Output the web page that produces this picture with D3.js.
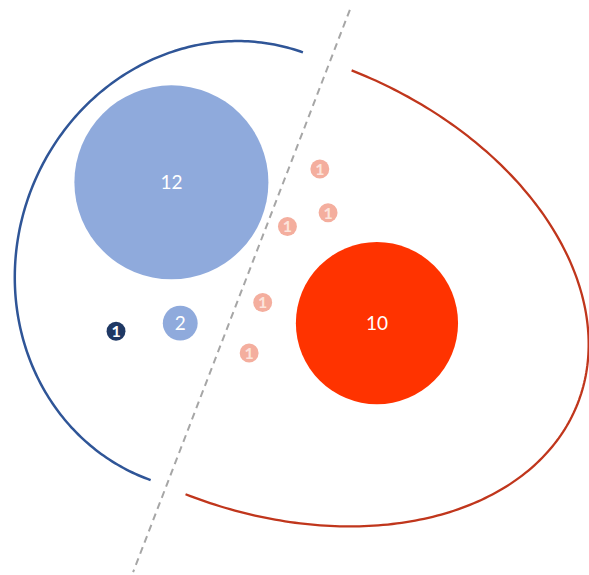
<!DOCTYPE html>
<html>
<head>
<meta charset="utf-8">
<script src="https://cdn.jsdelivr.net/npm/d3@7"></script>
<style>
  html, body { margin: 0; padding: 0; background: #ffffff; }
  svg { display: block; }
</style>
</head>
<body>
<svg id="chart" width="589" height="575"></svg>
<script>
// ---- data (positions in a 0–100 layout space, values = bubble counts) ----
const groups = ["blue", "blue", "blue", "red", "red", "red", "red", "red", "red"];
const values = [12, 2, 1, 10, 1, 1, 1, 1, 1];
const xs     = [29.1, 30.6, 19.7, 64.0, 54.3, 55.7, 48.8, 44.6, 42.3];
const ys     = [31.7, 56.2, 57.6, 56.2, 29.4, 37.0, 39.4, 52.6, 61.4];
const labels = ["12", "2", "1", "10", "1", "1", "1", "1", "1"];

const W = 589, H = 575;
const svg = d3.select("#chart");

const x = d3.scaleLinear().domain([0, 100]).range([0, W]);
const y = d3.scaleLinear().domain([0, 100]).range([0, H]);
const r = d3.scaleLinear().domain([0, 12]).range([1.5, 97]);

// fills
const fillFor = (g, v) => {
  if (g === "blue") return v === 1 ? "#1F3864" : "#8FAADC";
  return v === 1 ? "#F4AE9E" : "#FF3300";
};

// ---- half-ellipse outlines ----
function halfEllipse(cx, cy, a, b, deg, t0, t1) {
  const phi = deg * Math.PI / 180;
  const pts = d3.range(0, 201).map(i => {
    const t = (t0 + (t1 - t0) * i / 200) * Math.PI / 180;
    const u = a * Math.cos(t), v = b * Math.sin(t);
    return [cx + u * Math.cos(phi) - v * Math.sin(phi),
            cy + u * Math.sin(phi) + v * Math.cos(phi)];
  });
  return d3.line()(pts);
}

// blue outline: left half
svg.append("path")
  .attr("d", halfEllipse(x(38.5), y(46.3), 210, 227, 19.6, 90, 270))
  .attr("fill", "none")
  .attr("stroke", "#2F5597")
  .attr("stroke-width", 2.5);

// red outline: right half
svg.append("path")
  .attr("d", halfEllipse(x(45.6), y(49.1), 332, 227.6, 21.4, -90, 90))
  .attr("fill", "none")
  .attr("stroke", "#C0361C")
  .attr("stroke-width", 2.3);

// dashed divider
svg.append("line")
  .attr("x1", x(59.4)).attr("y1", y(1.7))
  .attr("x2", x(22.6)).attr("y2", y(99.5))
  .attr("stroke", "#A6A6A6")
  .attr("stroke-width", 2)
  .attr("stroke-dasharray", "7,5");

// bubbles
const data = values.map((v, i) => ({ g: groups[i], v, x: xs[i], y: ys[i], label: labels[i] }));

const node = svg.append("g").selectAll("g")
  .data(data).join("g")
  .attr("transform", d => `translate(${x(d.x)},${y(d.y)})`);

node.append("circle")
  .attr("r", d => r(d.v))
  .attr("fill", d => fillFor(d.g, d.v));

node.append("text")
  .attr("text-anchor", "middle")
  .attr("dy", "0.36em")
  .attr("font-family", "Lato, 'Open Sans', sans-serif")
  .attr("font-size", d => d.v === 1 ? 16 : 19)
  .attr("font-weight", d => d.v === 1 ? 700 : 400)
  .attr("fill", d => (d.g === "red" && d.v === 1) ? "#FCE4DC" : "#FFFFFF")
  .text(d => d.label);
</script>
</body>
</html>
